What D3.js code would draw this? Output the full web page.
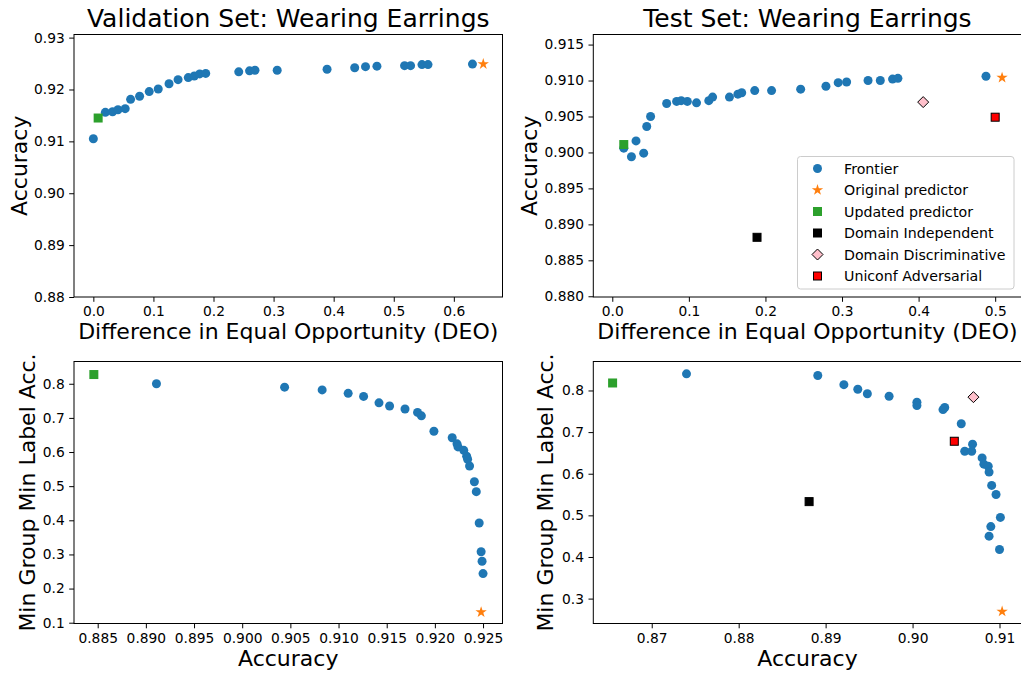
<!DOCTYPE html>
<html>
<head>
<meta charset="utf-8">
<script src="https://cdn.jsdelivr.net/npm/d3@7"></script>
<style>
  body { margin: 0; background: #fff; }
  svg { display: block; font-family: "DejaVu Sans", sans-serif; }
  .tick text { font-size: 13.8px; fill: #000; }
  .tick line { stroke: #000; }
  .domain { display: none; }
</style>
</head>
<body>
<script>
'use strict';

// validation set, accuracy vs DEO
const valDeo = [0, 0.020, 0.032, 0.041, 0.053, 0.062, 0.077, 0.093, 0.108, 0.126, 0.141, 0.158, 0.168, 0.177, 0.187,
  0.242, 0.260, 0.269, 0.306, 0.389, 0.435, 0.453, 0.472, 0.518, 0.528, 0.547, 0.557, 0.631];
const valAcc = [0.9105, 0.9156, 0.9157, 0.9161, 0.9163, 0.9181, 0.9187, 0.9196, 0.9201, 0.9211, 0.9219, 0.9223, 0.9226, 0.9230, 0.9231,
  0.9234, 0.9236, 0.9237, 0.9237, 0.9239, 0.9242, 0.9244, 0.9245, 0.9246, 0.9246, 0.9248, 0.9248, 0.9249];
const valOriginal = [0.649, 0.9249];
const valUpdated = [0.008, 0.9145];

// test set, accuracy vs DEO
const testDeo = [0.015, 0.031, 0.025, 0.041, 0.045, 0.050, 0.071, 0.084, 0.090, 0.098, 0.110, 0.126, 0.131, 0.153, 0.164,
  0.169, 0.186, 0.208, 0.246, 0.279, 0.295, 0.306, 0.334, 0.350, 0.366, 0.373, 0.488];
const testAcc = [0.9006, 0.9016, 0.8994, 0.8999, 0.9036, 0.9050, 0.9068, 0.9071, 0.9072, 0.9071, 0.9069, 0.9072, 0.9077, 0.9077, 0.9081,
  0.9083, 0.9086, 0.9086, 0.9088, 0.9092, 0.9097, 0.9098, 0.9100, 0.9100, 0.9102, 0.9103, 0.9106];
const testOriginal = [0.509, 0.9104];
const testUpdated = [0.015, 0.9011];
const testIndependent = [0.189, 0.8882];
const testDiscriminative = [0.406, 0.9070];
const testUniconf = [0.500, 0.9049];

// validation set, min group min label acc vs accuracy
const valAcc2 = [0.8911, 0.9044, 0.9083, 0.9110, 0.9126, 0.9142, 0.9153, 0.9169, 0.9182, 0.9186, 0.9199, 0.9218, 0.9223,
  0.9224, 0.9230, 0.9233, 0.9234, 0.9236, 0.9241, 0.9243, 0.9246, 0.9248, 0.9249, 0.9250];
const valMinAcc = [0.800, 0.790, 0.782, 0.772, 0.763, 0.744, 0.735, 0.726, 0.716, 0.706, 0.661, 0.642, 0.624,
  0.615, 0.605, 0.588, 0.579, 0.559, 0.513, 0.484, 0.392, 0.308, 0.280, 0.244];
const valOriginal2 = [0.9248, 0.131];
const valUpdated2 = [0.8846, 0.827];

// test set, min group min label acc vs accuracy
const testAcc2 = [0.8740, 0.8891, 0.8921, 0.8937, 0.8948, 0.8973, 0.9005, 0.9005, 0.9035, 0.9037, 0.9056, 0.9069, 0.9060,
  0.9068, 0.9080, 0.9082, 0.9087, 0.9088, 0.9091, 0.9096, 0.9101, 0.9090, 0.9088, 0.9100];
const testMinAcc = [0.840, 0.836, 0.814, 0.803, 0.792, 0.786, 0.772, 0.764, 0.754, 0.759, 0.720, 0.671, 0.654,
  0.654, 0.638, 0.623, 0.618, 0.604, 0.572, 0.550, 0.495, 0.473, 0.450, 0.418];
const testOriginal2 = [0.9103, 0.269];
const testUpdated2 = [0.8655, 0.818];
const testIndependent2 = [0.8881, 0.533];
const testDiscriminative2 = [0.9070, 0.784];
const testUniconf2 = [0.9048, 0.678];

// tick labels
const deoTicksVal = [0, 0.1, 0.2, 0.3, 0.4, 0.5, 0.6];
const accTicksVal = [0.88, 0.89, 0.90, 0.91, 0.92, 0.93];
const deoTicksTest = [0, 0.1, 0.2, 0.3, 0.4, 0.5];
const accTicksTest = [0.880, 0.885, 0.890, 0.895, 0.900, 0.905, 0.910, 0.915];
const accTicksVal2 = [0.885, 0.890, 0.895, 0.900, 0.905, 0.910, 0.915, 0.920, 0.925];
const minTicksVal = [0.1, 0.2, 0.3, 0.4, 0.5, 0.6, 0.7, 0.8];
const accTicksTest2 = [0.87, 0.88, 0.89, 0.90, 0.91];
const minTicksTest = [0.3, 0.4, 0.5, 0.6, 0.7, 0.8];

const legendNames = ['Frontier', 'Original predictor', 'Updated predictor',
  'Domain Independent', 'Domain Discriminative', 'Uniconf Adversarial'];

const BLUE = '#1f77b4', ORANGE = '#ff7f0e', GREEN = '#2ca02c';

const svg = d3.select('body').append('svg')
  .attr('width', 1021)
  .attr('height', 675);

// draw a single marker of a given kind at x, y
function marker(g, kind, x, y) {
  if (kind === 'frontier') {
    g.append('circle').attr('cx', x).attr('cy', y).attr('r', 4.5).attr('fill', BLUE);
  } else if (kind === 'original') {
    g.append('path').attr('d', d3.symbol().type(d3.symbolStar).size(40)())
      .attr('transform', `translate(${x},${y})`).attr('fill', ORANGE);
  } else if (kind === 'updated') {
    g.append('rect').attr('x', x - 4.5).attr('y', y - 4.5).attr('width', 9).attr('height', 9).attr('fill', GREEN);
  } else if (kind === 'independent') {
    g.append('rect').attr('x', x - 4).attr('y', y - 4).attr('width', 8).attr('height', 8)
      .attr('fill', '#000').attr('stroke', '#000');
  } else if (kind === 'discriminative') {
    g.append('path').attr('d', `M0,-5.5L5.5,0L0,5.5L-5.5,0Z`)
      .attr('transform', `translate(${x},${y})`).attr('fill', 'pink').attr('stroke', '#000').attr('stroke-width', 1);
  } else if (kind === 'uniconf') {
    g.append('rect').attr('x', x - 4).attr('y', y - 4).attr('width', 8).attr('height', 8)
      .attr('fill', 'red').attr('stroke', '#000').attr('stroke-width', 1);
  }
}

// drop the font attributes d3 puts on axes so the css applies
function plainFont(sel) {
  sel.attr('font-family', null).attr('font-size', null);
}

// one subplot
function panel(opt) {
  const g = svg.append('g');
  const x = d3.scaleLinear().domain(opt.xDomain).range([opt.left, opt.right]);
  const y = d3.scaleLinear().domain(opt.yDomain).range([opt.bottom, opt.top]);

  g.append('g')
    .attr('transform', `translate(0,${opt.bottom})`)
    .call(d3.axisBottom(x).tickValues(opt.xTicks).tickFormat(d3.format(opt.xFmt)).tickSizeOuter(0).tickSize(4.8).tickPadding(4.5))
    .call(plainFont);
  g.append('g')
    .attr('transform', `translate(${opt.left},0)`)
    .call(d3.axisLeft(y).tickValues(opt.yTicks).tickFormat(d3.format(opt.yFmt)).tickSizeOuter(0).tickSize(4.8).tickPadding(4.5))
    .call(plainFont);

  const marks = g.append('g');
  opt.xs.forEach((v, i) => marker(marks, 'frontier', x(v), y(opt.ys[i])));
  opt.extra.forEach(e => marker(marks, e.kind, x(e.p[0]), y(e.p[1])));

  g.append('rect')
    .attr('x', opt.left).attr('y', opt.top)
    .attr('width', opt.right - opt.left).attr('height', opt.bottom - opt.top)
    .attr('fill', 'none').attr('stroke', '#000').attr('stroke-width', 1);

  const cx = (opt.left + opt.right) / 2;
  if (opt.title) {
    g.append('text').attr('x', cx).attr('y', opt.top - 8)
      .attr('text-anchor', 'middle').style('font-size', '25px').text(opt.title);
  }
  g.append('text').attr('x', cx).attr('y', opt.bottom + opt.xLabelDy)
    .attr('text-anchor', 'middle').style('font-size', '22px').text(opt.xLabel);
  g.append('text')
    .attr('transform', `translate(${opt.yLabelX},${(opt.top + opt.bottom) / 2})rotate(-90)`)
    .attr('text-anchor', 'middle').style('font-size', '22px').text(opt.yLabel);
  return { x, y };
}

panel({
  left: 74, right: 502.5, top: 34.5, bottom: 297,
  xDomain: [-0.0322, 0.681], yDomain: [0.88, 0.9306],
  xTicks: deoTicksVal, yTicks: accTicksVal, xFmt: '.1f', yFmt: '.2f',
  xs: valDeo, ys: valAcc,
  extra: [{ kind: 'updated', p: valUpdated }, { kind: 'original', p: valOriginal }],
  title: 'Validation Set: Wearing Earrings',
  xLabel: 'Difference in Equal Opportunity (DEO)', xLabelDy: 42, yLabel: 'Accuracy', yLabelX: 27
});

panel({
  left: 593.3, right: 1021.6, top: 34.5, bottom: 297,
  xDomain: [-0.0248, 0.5345], yDomain: [0.8799, 0.9164],
  xTicks: deoTicksTest, yTicks: accTicksTest, xFmt: '.1f', yFmt: '.3f',
  xs: testDeo, ys: testAcc,
  extra: [{ kind: 'updated', p: testUpdated }, { kind: 'original', p: testOriginal },
    { kind: 'independent', p: testIndependent }, { kind: 'discriminative', p: testDiscriminative },
    { kind: 'uniconf', p: testUniconf }],
  title: 'Test Set: Wearing Earrings',
  xLabel: 'Difference in Equal Opportunity (DEO)', xLabelDy: 42, yLabel: 'Accuracy', yLabelX: 537
});

panel({
  left: 74, right: 502.5, top: 361.5, bottom: 623.5,
  xDomain: [0.88254, 0.92702], yDomain: [0.0977, 0.8652],
  xTicks: accTicksVal2, yTicks: minTicksVal, xFmt: '.3f', yFmt: '.1f',
  xs: valAcc2, ys: valMinAcc,
  extra: [{ kind: 'updated', p: valUpdated2 }, { kind: 'original', p: valOriginal2 }],
  xLabel: 'Accuracy', xLabelDy: 42, yLabel: 'Min Group Min Label Acc.', yLabelX: 35
});

panel({
  left: 593.3, right: 1021.6, top: 361.5, bottom: 623.5,
  xDomain: [0.86328, 0.91254], yDomain: [0.2402, 0.8696],
  xTicks: accTicksTest2, yTicks: minTicksTest, xFmt: '.2f', yFmt: '.1f',
  xs: testAcc2, ys: testMinAcc,
  extra: [{ kind: 'updated', p: testUpdated2 }, { kind: 'original', p: testOriginal2 },
    { kind: 'independent', p: testIndependent2 }, { kind: 'discriminative', p: testDiscriminative2 },
    { kind: 'uniconf', p: testUniconf2 }],
  xLabel: 'Accuracy', xLabelDy: 42, yLabel: 'Min Group Min Label Acc.', yLabelX: 553
});

// legend in the test set DEO panel
const legend = svg.append('g').attr('transform', 'translate(797.5,156.5)');
legend.append('rect')
  .attr('width', 216.5).attr('height', 132.5).attr('rx', 3)
  .attr('fill', '#fff').attr('fill-opacity', 0.8).attr('stroke', '#ccc');
const kinds = ['frontier', 'original', 'updated', 'independent', 'discriminative', 'uniconf'];
legendNames.forEach((name, i) => {
  const yy = 12 + i * 21.5;
  marker(legend, kinds[i], 20, yy);
  legend.append('text').attr('x', 46.5).attr('y', yy + 5)
    .style('font-size', '14.2px').text(name);
});
</script>
</body>
</html>
